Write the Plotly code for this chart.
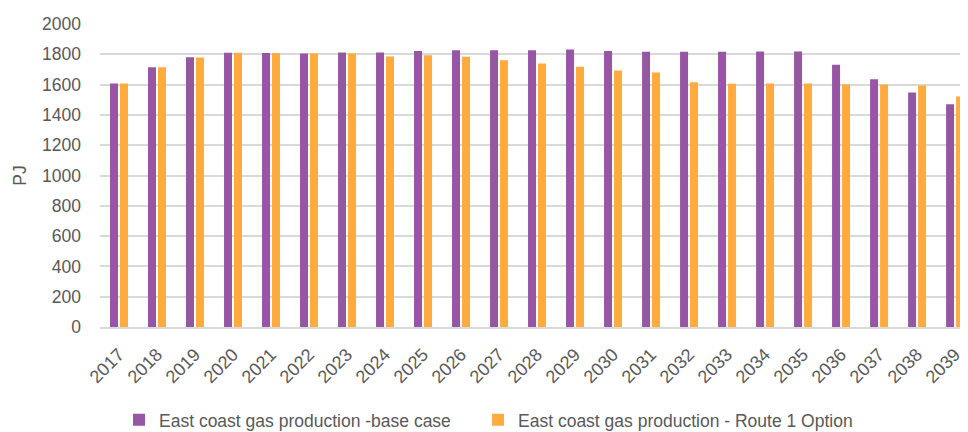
import plotly.graph_objects as go

years = [str(y) for y in range(2017, 2040)]
base_case = [1608, 1715, 1781, 1810, 1808, 1806, 1812, 1812, 1821, 1826, 1826, 1826,
             1832, 1821, 1817, 1817, 1817, 1819, 1819, 1731, 1636, 1548, 1470]
route1 = [1608, 1715, 1779, 1810, 1808, 1806, 1806, 1786, 1793, 1784, 1760, 1740,
          1718, 1693, 1680, 1616, 1605, 1607, 1607, 1603, 1600, 1594, 1521]
y_ticks = list(range(0, 2001, 200))

grey = "#595959"
fs = 17.5
fig = go.Figure()
fig.add_trace(go.Bar(x=years, y=base_case, name="East coast gas production -base case",
                     marker=dict(color="#9756a4", line=dict(width=0)), legend="legend"))
fig.add_trace(go.Bar(x=years, y=route1, name="East coast gas production - Route 1 Option",
                     marker=dict(color="#ffab3d", line=dict(width=0)), legend="legend2"))

leg_common = dict(orientation="h", y=-0.2469, yanchor="top", xanchor="left",
                  font=dict(size=fs, color=grey), itemwidth=30, bgcolor="rgba(0,0,0,0)")
fig.update_layout(
    width=960, height=424,
    margin=dict(l=92, r=0, t=16, b=105, autoexpand=False),
    paper_bgcolor="white", plot_bgcolor="white",
    barmode="group", bargap=0.474, bargroupgap=0.2,
    font=dict(family="Liberation Sans, Arial, sans-serif", size=fs, color=grey),
    legend=dict(x=0.0219, **leg_common),
    legend2=dict(x=0.4355, **leg_common),
    showlegend=True,
)
fig.update_xaxes(type="category", range=[-0.5, 22.34], tickangle=-45, automargin=False,
                 showgrid=False, showline=True, linecolor="#d9d9d9", linewidth=2,
                 ticks="", ticklabelstandoff=8, tickfont=dict(size=18, color=grey))
fig.update_yaxes(range=[0, 2000], tickvals=y_ticks, showgrid=True, gridcolor="#d9d9d9",
                 gridwidth=1.5, zeroline=False, showline=False, ticks="", automargin=False,
                 ticklabelstandoff=18,
                 title=dict(text="PJ", font=dict(size=fs, color=grey), standoff=10),
                 tickfont=dict(size=fs, color=grey))

fig.write_html("out.html")
